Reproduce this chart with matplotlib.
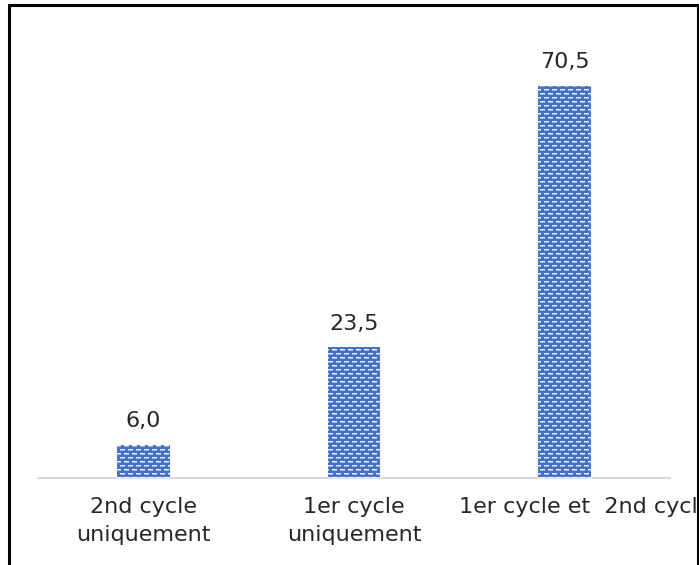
import numpy as np
import matplotlib.pyplot as plt
from matplotlib.patches import Rectangle
from matplotlib.transforms import ScaledTranslation

categories = ["2nd cycle\nuniquement", "1er cycle\nuniquement", "1er cycle et  2nd cycle"]
values = [6.0, 23.5, 70.5]

plt.rcParams["font.family"] = ["DejaVu Sans"]

fig = plt.figure(figsize=(6.99, 5.65), dpi=100)
ax = fig.add_axes([38 / 699, 87 / 565, 632 / 699, 445 / 565])

x = range(len(values))
bars = ax.bar(x, values, width=0.25, color="#4472C4", linewidth=0)

ax.set_xlim(-0.5, 2.5)
ax.set_ylim(0, 80)

# dashed "brick" texture over the bars, pixel for pixel
H, W = 565, 699
tex = np.zeros((H, W, 4))
for r in range(H):
    off = 4 if (r // 4) % 2 else 0
    cols = ((np.arange(W) + off) % 8) < 5
    if r % 4 == 1:
        tex[r, cols] = [1, 1, 1, 0.95]
    elif r % 4 == 2:
        tex[r, cols] = [1, 1, 1, 0.45]
for b in bars:
    im = fig.figimage(tex, xo=0, yo=0, origin="upper", zorder=3)
    im.set_clip_path(b)

for xi, v in zip(x, values):
    ax.text(xi, v + 2.4, f"{v:.1f}".replace(".", ","), ha="center", va="bottom",
            fontsize=16, color="#262626")

ax.set_xticks(list(x))
ax.set_xticklabels(categories, fontsize=16, color="#262626", linespacing=1.5)
ax.tick_params(axis="x", length=0, pad=14)
lab = ax.get_xticklabels()[2]
lab.set_transform(lab.get_transform() + ScaledTranslation(0.21, 0, fig.dpi_scale_trans))
ax.set_yticks([])
for s in ["top", "right", "left"]:
    ax.spines[s].set_visible(False)
ax.spines["bottom"].set_color("#D9D9D9")
ax.spines["bottom"].set_linewidth(1.5)

# outer frame of the chart
fig.patches.append(Rectangle((698 / 699, 0), 0.1, 1, transform=fig.transFigure,
                             facecolor="white", edgecolor="none", zorder=5))
fig.patches.append(Rectangle((9 / 699, -0.1), 688.5 / 699, 1.1 - 5 / 565, transform=fig.transFigure,
                             fill=False, edgecolor="black", linewidth=2.2, clip_on=False, zorder=6))

fig.savefig("out.png", dpi=100)
